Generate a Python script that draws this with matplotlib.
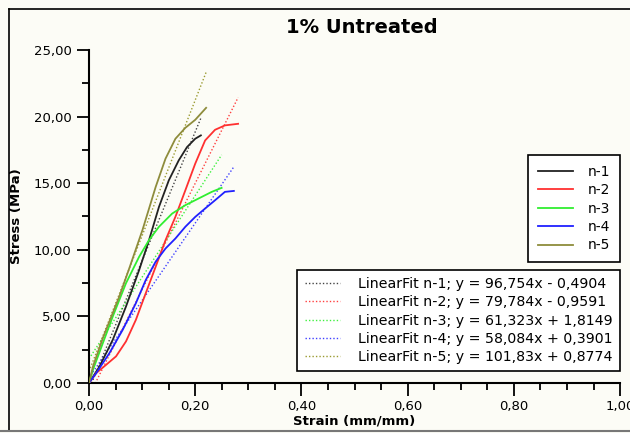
import matplotlib
matplotlib.use("Agg")
import matplotlib.pyplot as plt
from matplotlib.ticker import MultipleLocator, FuncFormatter
from matplotlib.lines import Line2D
import numpy as np

# strain (mm/mm) / stress (MPa)
strain_n1 = [0, 0.0199, 0.0447, 0.0696, 0.0944, 0.113, 0.1317, 0.1503, 0.169, 0.1845, 0.2, 0.2106]
stress_n1 = [0, 1.25, 3.24, 5.74, 8.48, 10.73, 13.22, 15.22, 16.72, 17.71, 18.34, 18.59]

strain_n2 = [0, 0.0137, 0.0323, 0.0509, 0.0696, 0.0882, 0.1068, 0.1255, 0.1441, 0.1627,
             0.1814, 0.2, 0.2186, 0.2373, 0.2559, 0.2807]
stress_n2 = [0, 0.75, 1.37, 2.0, 3.12, 4.74, 6.74, 8.73, 10.73, 12.48,
             14.47, 16.47, 18.21, 19.01, 19.34, 19.46]

strain_n3 = [0, 0.0075, 0.026, 0.0447, 0.0696, 0.0944, 0.113, 0.1317, 0.1565, 0.1814, 0.2062, 0.2311, 0.2497]
stress_n3 = [0, 1.0, 2.99, 4.99, 7.49, 9.48, 10.73, 11.73, 12.72, 13.35, 13.85, 14.35, 14.65]

strain_n4 = [0, 0.0137, 0.0385, 0.0634, 0.0882, 0.1068, 0.1255, 0.1441, 0.1627, 0.1814,
             0.2, 0.2186, 0.2373, 0.2559, 0.2727]
stress_n4 = [0, 0.75, 2.25, 3.99, 5.99, 7.73, 9.11, 10.1, 10.85, 11.73,
             12.47, 13.1, 13.72, 14.35, 14.42]

strain_n5 = [0, 0.0075, 0.026, 0.057, 0.0758, 0.1006, 0.1255, 0.144, 0.1627, 0.1814, 0.2, 0.2205]
stress_n5 = [0, 1.25, 3.37, 6.49, 8.61, 11.48, 14.72, 16.84, 18.34, 19.16, 19.76, 20.66]

names = ["n-1", "n-2", "n-3", "n-4", "n-5"]
fit_slope = [96.754, 79.784, 61.323, 58.084, 101.83]
fit_icpt = [-0.4904, -0.9591, 1.8149, 0.3901, 0.8774]
fit_text = ["96,754x - 0,4904", "79,784x - 0,9591", "61,323x + 1,8149",
            "58,084x + 0,3901", "101,83x + 0,8774"]

colors = ["#222222", "#ff3030", "#30ee30", "#2020ff", "#8e8c3c"]
fit_colors = ["#444444", "#ff4040", "#40f040", "#4040ff", "#9a9a30"]

strains = [strain_n1, strain_n2, strain_n3, strain_n4, strain_n5]
stresses = [stress_n1, stress_n2, stress_n3, stress_n4, stress_n5]

bg = "#fcfcf6"
fig = plt.figure(figsize=(6.3, 4.33), dpi=100, facecolor=bg)
ax = fig.add_axes([0.1413, 0.1155, 0.843, 0.769])
ax.set_facecolor(bg)

for i in range(5):
    ax.plot(strains[i], stresses[i], color=colors[i], lw=1.3, zorder=3)
for i in range(5):
    xx = np.linspace(0, strains[i][-1], 50)
    ax.plot(xx, fit_slope[i] * xx + fit_icpt[i], color=fit_colors[i], lw=1.0,
            ls=(0, (1, 1.5)), zorder=2)

ax.set_xlim(0, 1.0)
ax.set_ylim(0, 25)
ax.xaxis.set_major_locator(MultipleLocator(0.2))
ax.xaxis.set_minor_locator(MultipleLocator(0.05))
ax.yaxis.set_major_locator(MultipleLocator(5))
ax.yaxis.set_minor_locator(MultipleLocator(2.5))
comma = FuncFormatter(lambda v, p: ("%.2f" % v).replace(".", ","))
ax.xaxis.set_major_formatter(comma)
ax.yaxis.set_major_formatter(comma)
ax.tick_params(which="major", length=9, width=1.3, labelsize=9.5, direction="out")
ax.tick_params(which="minor", length=5, width=1.3, direction="out")
for s in ["top", "right"]:
    ax.spines[s].set_visible(False)
for s in ["left", "bottom"]:
    ax.spines[s].set_linewidth(1.5)

ax.set_xlabel("Strain (mm/mm)", fontsize=9.5, fontweight="bold", labelpad=1)
ax.set_ylabel("Stress (MPa)", fontsize=9.5, fontweight="bold", labelpad=8)
fig.text(0.575, 0.936, "1% Untreated", fontsize=14, fontweight="bold",
         ha="center", va="center")

h1 = [Line2D([], [], color=colors[i], lw=1.3) for i in range(5)]
leg1 = ax.legend(h1, names, loc="upper right", bbox_to_anchor=(1.0, 0.685),
                 fontsize=10, fancybox=False, edgecolor="black", framealpha=1,
                 facecolor="white", handlelength=2.5, labelspacing=0.32,
                 borderpad=0.7, handletextpad=1.1, borderaxespad=0)
leg1.get_frame().set_linewidth(1.2)
ax.add_artist(leg1)

h2 = [Line2D([], [], color=fit_colors[i], lw=1.0, ls=(0, (1, 1.5))) for i in range(5)]
lab2 = ["LinearFit %s; y = %s" % (names[i], fit_text[i]) for i in range(5)]
leg2 = ax.legend(h2, lab2, loc="upper right", bbox_to_anchor=(1.0, 0.339),
                 fontsize=10.2, fancybox=False, edgecolor="black", framealpha=1,
                 facecolor="white", handlelength=2.5, labelspacing=0.3,
                 borderpad=0.5, handletextpad=1.3, borderaxespad=0)
leg2.get_frame().set_linewidth(1.2)

# outer frame
fig.add_artist(Line2D([9 / 630, 9 / 630], [0.005, 1 - 9 / 433], color="black", lw=1.2,
                      transform=fig.transFigure))
fig.add_artist(Line2D([9 / 630, 1.0], [1 - 9 / 433, 1 - 9 / 433], color="black", lw=1.2,
                      transform=fig.transFigure))
fig.add_artist(Line2D([0, 1.0], [0.004, 0.004], color="#777777", lw=1.5,
                      transform=fig.transFigure))

fig.savefig("out.png", dpi=100, facecolor=bg)
